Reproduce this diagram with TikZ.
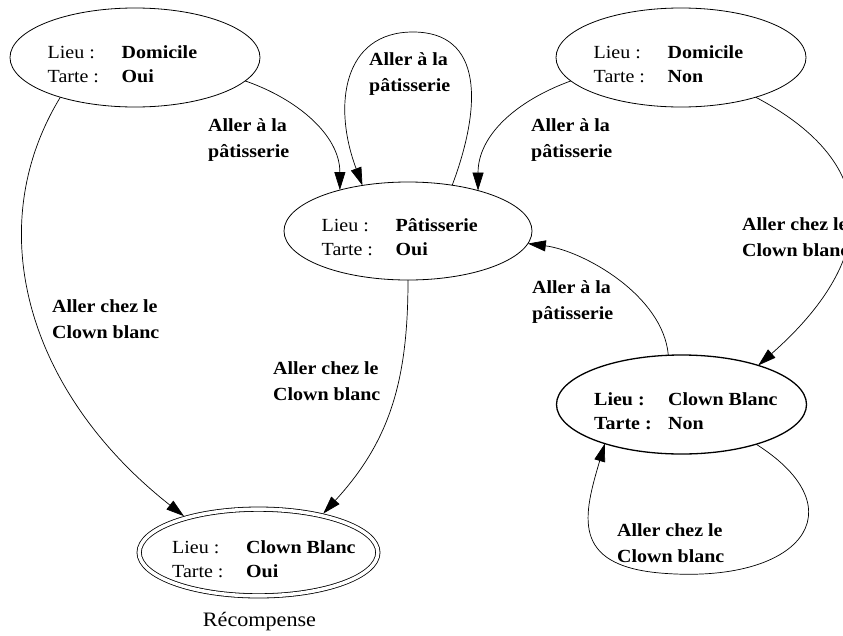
\documentclass[tikz,border=0pt]{standalone}
\usepackage{fontspec}
\setmainfont[FakeStretch=1.08]{Liberation Serif}
\usetikzlibrary{arrows.meta,calc,shapes.geometric}

\tikzset{
  state/.style={ellipse, draw, line width=0.8pt, minimum width=250pt,
                minimum height=99pt, inner sep=0pt, outer sep=0pt},
  info/.style={inner sep=0pt, anchor=base west,
               font=\fontsize{18.5}{24}\selectfont},
  tr/.style={draw, line width=0.7pt, -{Triangle[length=18pt,width=11pt]}},
  trlabel/.style={inner sep=0pt, anchor=base west,
                  font=\fontsize{18.5}{26}\selectfont\bfseries},
}
\newcommand\statetab[4]{\begin{tabular}[t]{@{}p{74pt}@{}l@{}}#1&\textbf{#2}\\#3&\textbf{#4}\end{tabular}}
\newcommand\twolines[2]{\begin{tabular}[t]{@{}l@{}}#1\\#2\end{tabular}}

\begin{document}
\begin{tikzpicture}[x=1pt,y=-1pt]
\useasboundingbox (0,0) rectangle (843,635);

% states
\node[state] (dOui) at (135,57.5) {};
\node[state] (dNon) at (681,57.5) {};
\node[state, minimum width=248pt, minimum height=98pt] (pat) at (408,231) {};
\node[state, line width=1.3pt] (cbn) at (681.5,404.5) {};
\node[state, double, double distance=3.5pt, minimum width=238.7pt,
      minimum height=86.7pt, outer sep=2.55pt] (rec) at (258.5,552.5) {};

% state contents
\node[info] (dOuiT) at ($(dOui.center)+(-87.5,0.5)$) {\statetab{Lieu :}{Domicile}{Tarte :}{Oui}};
\node[info] (dNonT) at ($(dNon.center)+(-87.5,0.5)$) {\statetab{Lieu :}{Domicile}{Tarte :}{Non}};
\node[info] (patT) at ($(pat.center)+(-86.5,0.7)$) {\statetab{Lieu :}{Pâtisserie}{Tarte :}{Oui}};
\node[info] (cbnT) at ($(cbn.center)+(-87.5,0.5)$) {\statetab{\textbf{Lieu :}}{Clown Blanc}{\textbf{Tarte :}}{Non}};
\node[info] (recT) at ($(rec.center)+(-86.5,0.5)$) {\statetab{Lieu :}{Clown Blanc}{Tarte :}{Oui}};
\node[inner sep=0pt, anchor=base, font=\fontsize{20.5}{24}\selectfont] (recL)
  at ($(rec.center)+(1,73.5)$) {Récompense};

% transitions
\draw[tr] (dOui.-12) .. controls +(52,18) and +(0,-55) .. (pat.149);
\coordinate (loopTop) at (413,32);
\draw[tr] (pat.46) .. controls +(30,-80) and +(70,0) .. (loopTop)
                   .. controls +(-70,0) and +(-30,-80) .. (pat.135);
\draw[tr] (dNon.192) .. controls +(-55,20) and +(0,-55) .. (pat.30.5);
\draw[tr] (dNon.-28) .. controls +(140,74) and +(108,-95) .. (cbn.27);
\draw[tr] (cbn.105) .. controls +(-5,-60) and +(55,7) .. (pat.-6);
\draw[tr] (dOui.208) .. controls +(-81,133) and +(-155,-122) .. (rec.154);
\draw[tr] (pat.-90) .. controls +(0,100) and +(67,-73) .. (rec.31);
\coordinate (loopLow) at (660,573);
\draw[tr] (cbn.-28) .. controls +(104,66) and +(140,12) .. (loopLow)
                    .. controls +(-90,-8) and +(-21,71) .. (cbn.207.5);

% transition labels
\node[trlabel] (lblA) at (208,131) {\twolines{Aller à la}{pâtisserie}};
\node[trlabel] (lblLoop) at (369,65) {\twolines{Aller à la}{pâtisserie}};
\node[trlabel] (lblB) at (531,131) {\twolines{Aller à la}{pâtisserie}};
\node[trlabel] (lblC) at (742,230) {\twolines{Aller chez le}{Clown blanc}};
\node[trlabel] (lblD) at (532,293) {\twolines{Aller à la}{pâtisserie}};
\node[trlabel] (lblE) at (52,312) {\twolines{Aller chez le}{Clown blanc}};
\node[trlabel] (lblF) at (273,374) {\twolines{Aller chez le}{Clown blanc}};
\node[trlabel] (lblG) at (617,536) {\twolines{Aller chez le}{Clown blanc}};
\end{tikzpicture}
\end{document}
